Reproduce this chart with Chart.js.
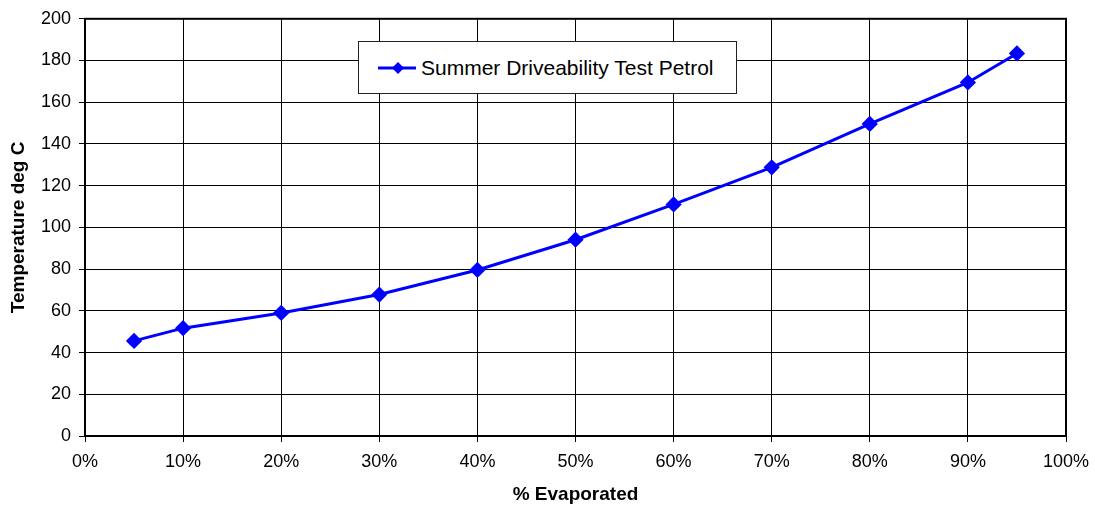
<!DOCTYPE html>
<html>
<head>
<meta charset="utf-8">
<script src="https://cdn.jsdelivr.net/npm/chart.js@4.4.1/dist/chart.umd.min.js"></script>
<style>
    html, body { margin: 0; padding: 0; background: #fff; }
    #wrap { position: relative; width: 1095px; height: 506px; }
    #legend {
        position: absolute; left: 358px; top: 41px; width: 377px; height: 51px;
        border: 1px solid #222; background: #fff;
        font-family: "Liberation Sans", Arial, sans-serif; font-size: 21px; color: #000;
        display: flex; align-items: center;
    }
    #legend canvas { margin-left: 19px; margin-right: 3px; }
</style>
</head>
<body>
<div id="wrap">
    <canvas id="chart" width="1095" height="506"></canvas>
    <div id="legend"><canvas id="marker" width="40" height="20"></canvas><span id="legendText"></span></div>
</div>
<script>
// % evaporated and temperature (deg C)
const evaporated = [5, 10, 20, 30, 40, 50, 60, 70, 80, 90, 95];
const temperature = [45.6, 51.7, 59.0, 67.8, 79.6, 94.1, 111.0, 128.8, 149.6, 169.5, 183.4];
const seriesName = 'Summer Driveability Test Petrol';
const xTitle = '% Evaporated';
const yTitle = 'Temperature deg C';

const blue = '#0000FF';
const font = 'Liberation Sans, Arial, sans-serif';

// legend made by hand, inside the plot like the original
document.getElementById('legendText').textContent = seriesName;
const m = document.getElementById('marker').getContext('2d');
m.strokeStyle = blue;
m.lineWidth = 3;
m.beginPath(); m.moveTo(0, 10); m.lineTo(38, 10); m.stroke();
m.fillStyle = blue;
m.beginPath(); m.moveTo(20, 4); m.lineTo(26, 10); m.lineTo(20, 16); m.lineTo(14, 10); m.closePath(); m.fill();

// box round the plot area
const frame = {
    id: 'frame',
    afterDatasetsDraw(chart) {
        const a = chart.chartArea;
        const ctx = chart.ctx;
        ctx.save();
        ctx.strokeStyle = '#000';
        ctx.lineWidth = 2;
        ctx.strokeRect(a.left, a.top, a.right - a.left, a.bottom - a.top);
        ctx.restore();
    }
};

new Chart(document.getElementById('chart'), {
    type: 'line',
    data: {
        datasets: [{
            label: seriesName,
            data: evaporated.map((x, i) => ({ x: x, y: temperature[i] })),
            borderColor: blue,
            backgroundColor: blue,
            borderWidth: 3,
            pointStyle: 'rectRot',
            pointRadius: 6,
            pointHoverRadius: 6,
            tension: 0
        }]
    },
    options: {
        responsive: false,
        animation: false,
        layout: { padding: { top: 18, right: 29, left: 0, bottom: 0 } },
        plugins: { legend: { display: false }, tooltip: { enabled: false } },
        scales: {
            x: {
                type: 'linear',
                min: 0, max: 100,
                ticks: {
                    stepSize: 10,
                    color: '#000',
                    font: { family: font, size: 18 },
                    padding: 9,
                    maxRotation: 0,
                    callback: v => v + '%'
                },
                grid: { color: '#000', lineWidth: 1, tickLength: 6 },
                border: { color: '#000', width: 2 },
                title: { display: true, text: xTitle, color: '#000', font: { family: font, size: 19, weight: 'bold' }, padding: { top: 4, bottom: 0 } },
                afterFit(scale) {
                    scale.height = 70;
                    scale.paddingLeft = 0;
                    scale.paddingRight = 0;
                }
            },
            y: {
                min: 0, max: 200,
                ticks: {
                    stepSize: 20,
                    color: '#000',
                    font: { family: font, size: 18 },
                    padding: 8
                },
                grid: { color: '#000', lineWidth: 1, tickLength: 6 },
                border: { color: '#000', width: 2 },
                title: { display: true, text: yTitle, color: '#000', font: { family: font, size: 19, weight: 'bold' }, padding: { top: 7, bottom: 4 } },
                afterFit(scale) { scale.width = 85; }
            }
        }
    },
    plugins: [frame]
});
</script>
</body>
</html>
